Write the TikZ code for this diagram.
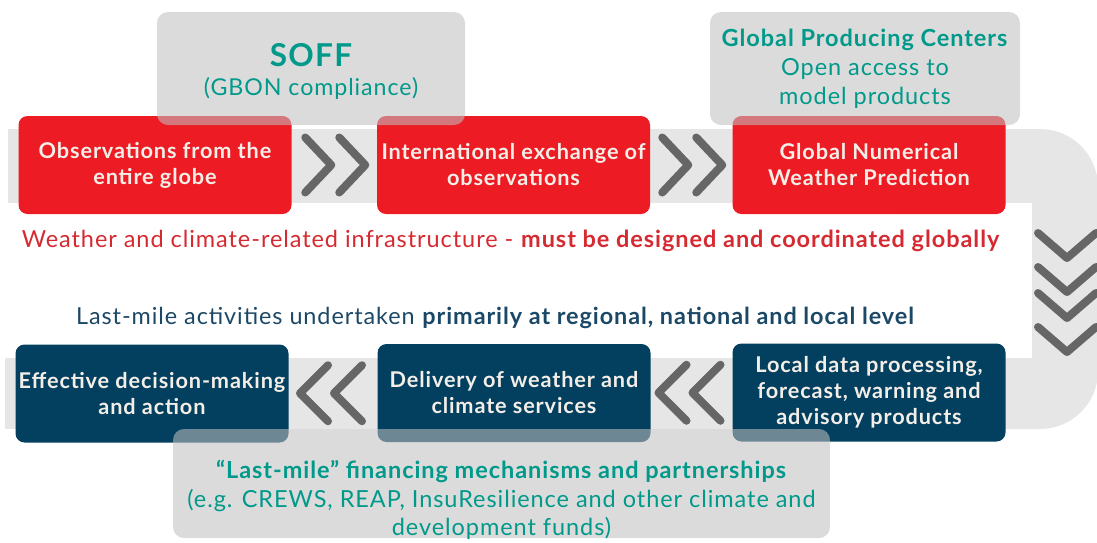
\documentclass[tikz,border=0pt]{standalone}
\usepackage{fontspec}
\setmainfont{Lato}[LetterSpace=4]
\usetikzlibrary{calc}

\definecolor{wmored}{HTML}{ED1C24}
\definecolor{wmonavy}{HTML}{033F5E}
\definecolor{wmoteal}{HTML}{00998A}
\definecolor{bandgray}{HTML}{E6E6E6}
\definecolor{veilgray}{HTML}{C0C0C0}
\definecolor{chevgray}{HTML}{666666}
\definecolor{stagetext}{HTML}{F3EEE8}
\definecolor{linered}{HTML}{D52A31}
\definecolor{linenavy}{HTML}{1B4866}

\newcommand{\stagefont}{\fontsize{21.7}{26}\selectfont\bfseries}
\newcommand{\partnerfont}{\fontsize{23.5}{29}\selectfont}

\tikzset{
  stage/.style={rounded corners=9pt, minimum width=273pt, minimum height=98pt,
    inner sep=0pt, align=center, text=stagetext, font=\stagefont},
  globalstage/.style={stage, fill=wmored},
  lastmile/.style={stage, fill=wmonavy},
  partner/.style={rounded corners=11pt, fill=veilgray, fill opacity=0.565,
    text opacity=1, inner sep=0pt, align=center, text=wmoteal, font=\partnerfont},
  chev/.style={draw=chevgray, line width=8pt, line cap=round, line join=round},
  chevronsright/.pic={
    \draw[chev] (-29,-27.5) -- (-3,0) -- (-29,27.5);
    \draw[chev] (5,-27.5) -- (31,0) -- (5,27.5);
  },
  chevronsleft/.pic={
    \draw[chev] (-5,-28) -- (-33,0) -- (-5,28);
    \draw[chev] (29,-28) -- (1,0) -- (29,28);
  },
  chevronsdown/.pic={
    \draw[chev] (-29,0) -- (0,25) -- (29,0);
    \draw[chev] (-29,34) -- (0,59) -- (29,34);
  }
}

\begin{document}
\begin{tikzpicture}[x=1pt, y=-1pt]
  \useasboundingbox (0,0) rectangle (1097,542);

  % the U-shaped band behind both rows
  \fill[bandgray] (8,129) rectangle (1000,203);
  \fill[bandgray] (5,358) rectangle (1000,429);
  \fill[bandgray, rounded corners=58pt] (900,129) rectangle (1098,429);
  \fill[white] (900,203) rectangle (1032,358);

  \node[globalstage] (obs) at (155,165) {Observations from the\\entire globe};
  \node[globalstage] (exch) at (513.5,165) {International exchange of\\observations};
  \node[globalstage] (nwp) at (869,165) {Global Numerical\\Weather Prediction};

  \node[lastmile] (decide) at (152,393.5) {Effective decision-making\\and action};
  \node[lastmile] (deliver) at (514,393) {Delivery of weather and\\climate services};
  \node[lastmile] (localdata) at (869,392.5) {Local data processing,\\forecast, warning and\\advisory products};

  \pic at ($(obs.east)!.5!(exch.west)$) {chevronsright};
  \pic at ($(exch.east)!.5!(nwp.west)$) {chevronsright};
  \pic at (1067,233) {chevronsdown};
  \pic at (1067,293) {chevronsdown};
  \pic at ($(deliver.west)!.5!(decide.east)$) {chevronsleft};
  \pic at ($(localdata.west)!.5!(deliver.east)$) {chevronsleft};

  \node[font=\fontsize{23.5}{28}\selectfont, text=linered] (globalline) at (511,241)
    {Weather and climate-related infrastructure - \textbf{must be designed and coordinated globally}};
  \node[font=\fontsize{23.4}{28}\selectfont, text=linenavy] (lastmileline) at (495.5,318)
    {Last-mile activities undertaken \textbf{primarily at regional, national and local level}};

  \node[partner, minimum width=308pt, minimum height=113pt] (soff) at (311,68.5) {};
  \node[align=center, text=wmoteal, font=\fontsize{23.2}{29}\selectfont] (sofftext) at (311,71)
    {{\fontsize{31.5}{34}\selectfont\bfseries SOFF}\\(GBON compliance)};
  \node[partner, minimum width=310pt, minimum height=113pt] (gpc) at (865,68.5)
    {\textbf{Global Producing Centers}\\Open access to\\model products};
  \node[partner, minimum width=657pt, minimum height=109pt] (finance) at (501.5,483.5) {};
  \node[align=center, text=wmoteal, font=\fontsize{23.5}{28.5}\selectfont] (financetext) at (501.5,500)
    {\textbf{“Last-mile” financing mechanisms and partnerships}\\
     (e.g. CREWS, REAP, InsuResilience and other climate and\\development funds)};
\end{tikzpicture}
\end{document}
